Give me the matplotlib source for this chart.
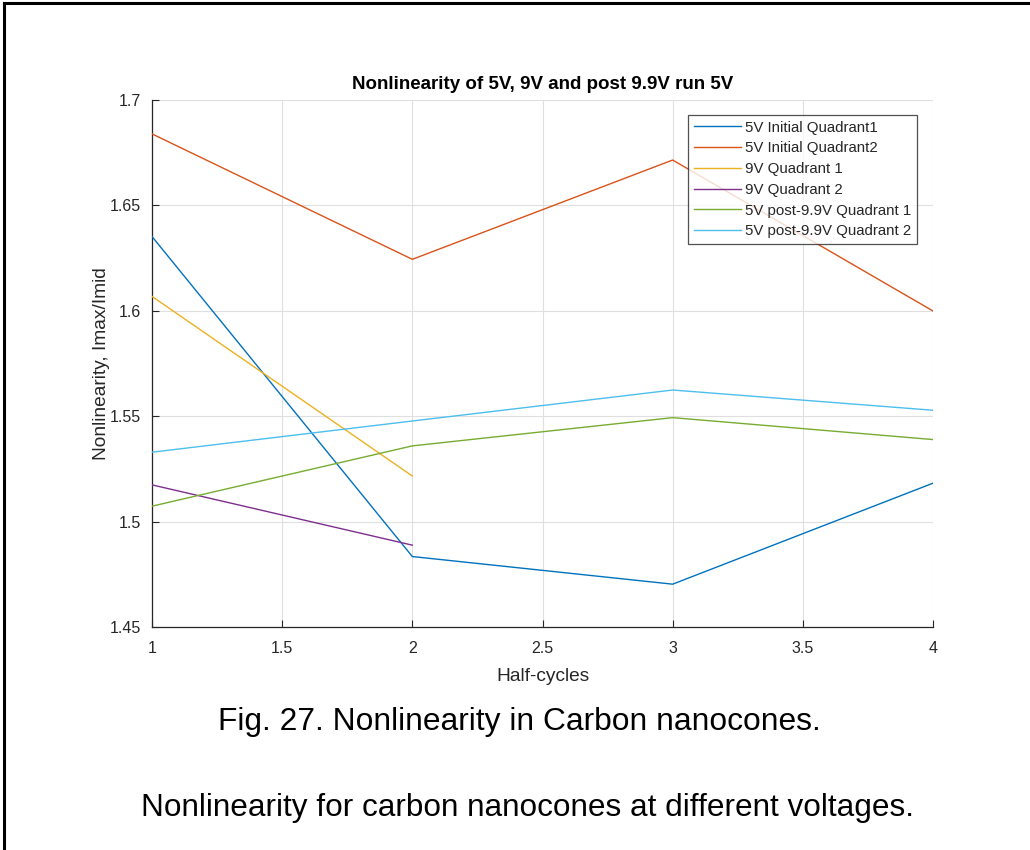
import matplotlib.pyplot as plt
from matplotlib.lines import Line2D

plt.rcParams["font.family"] = ["Liberation Sans", "DejaVu Sans"]

# Half-cycle index and nonlinearity ratio Imax/Imid per run
half_cycles = [1, 2, 3, 4]
initial_q1 = [1.6352, 1.4834, 1.4703, 1.5182]
initial_q2 = [1.6839, 1.6244, 1.6715, 1.5999]
half_cycles_9v = [1, 2]
nine_q1 = [1.6068, 1.5216]
nine_q2 = [1.5174, 1.4888]
post_q1 = [1.5073, 1.5359, 1.5493, 1.5389]
post_q2 = [1.5329, 1.5477, 1.5624, 1.5528]

labels = [
    "5V Initial Quadrant1",
    "5V Initial Quadrant2",
    "9V Quadrant 1",
    "9V Quadrant 2",
    "5V post-9.9V Quadrant 1",
    "5V post-9.9V Quadrant 2",
]
x_ticks = [1, 1.5, 2, 2.5, 3, 3.5, 4]
y_ticks = [1.45, 1.5, 1.55, 1.6, 1.65, 1.7]
y_tick_labels = ["1.45", "1.5", "1.55", "1.6", "1.65", "1.7"]
x_tick_labels = ["1", "1.5", "2", "2.5", "3", "3.5", "4"]

# MATLAB default line order colours
COLORS = ["#0072BD", "#D95319", "#EDB120", "#7E2F8E", "#77AC30", "#4DBEEE"]
INK = "#262626"

fig = plt.figure(figsize=(10.3, 8.5), dpi=100)
fig.patch.set_facecolor("white")
ax = fig.add_axes([0.1476, 0.2624, 0.7582, 0.62])

series = [
    (half_cycles, initial_q1),
    (half_cycles, initial_q2),
    (half_cycles_9v, nine_q1),
    (half_cycles_9v, nine_q2),
    (half_cycles, post_q1),
    (half_cycles, post_q2),
]
for (xs, ys), color, label in zip(series, COLORS, labels):
    ax.plot(xs, ys, color=color, lw=1.0, label=label, zorder=3)

ax.set_xlim(1, 4)
ax.set_ylim(1.45, 1.7)
ax.set_xticks(x_ticks)
ax.set_xticklabels(x_tick_labels)
ax.set_yticks(y_ticks)
ax.set_yticklabels(y_tick_labels)
ax.tick_params(direction="in", length=5, width=0.8, colors=INK,
               labelsize=11.5)
ax.tick_params(axis="x", pad=10)
ax.tick_params(axis="y", pad=8)
ax.grid(True, color="#dfdfdf", lw=0.8, zorder=0)
for side in ("top", "right"):
    ax.spines[side].set_visible(False)
for side in ("left", "bottom"):
    ax.spines[side].set_color(INK)
    ax.spines[side].set_linewidth(0.9)

ax.set_title("Nonlinearity of 5V, 9V and post 9.9V run 5V",
             fontsize=13.5, fontweight="bold", color="black", pad=8)
ax.set_xlabel("Half-cycles", fontsize=13.8, color=INK, labelpad=9)
ax.set_ylabel("Nonlinearity, Imax/Imid", fontsize=13.8, color=INK, labelpad=0)

leg = ax.legend(loc="upper right", bbox_to_anchor=(0.98, 0.972),
                borderaxespad=0, fontsize=10.8, frameon=True, fancybox=False,
                handlelength=3.1, handletextpad=0.3, labelspacing=0.45,
                borderpad=0.4)
leg.get_frame().set_edgecolor(INK)
leg.get_frame().set_linewidth(0.9)
for t in leg.get_texts():
    t.set_color(INK)

# Figure caption below the plot
fig.text(0.504, 1 - 722 / 850, "Fig. 27. Nonlinearity in Carbon nanocones.",
         fontsize=22.9, ha="center", va="center", color="black")
fig.text(0.512, 1 - 808 / 850,
         "Nonlinearity for carbon nanocones at different voltages.",
         fontsize=22.7, ha="center", va="center", color="black")

# Page frame along the top and left edges
fig.add_artist(Line2D([0.004, 1.0], [0.9965, 0.9965], color="black", lw=2.2,
                      transform=fig.transFigure))
fig.add_artist(Line2D([0.004, 0.004], [0.0, 0.9965], color="black", lw=2.2,
                      transform=fig.transFigure))

fig.savefig("out.png", dpi=100, facecolor="white")
